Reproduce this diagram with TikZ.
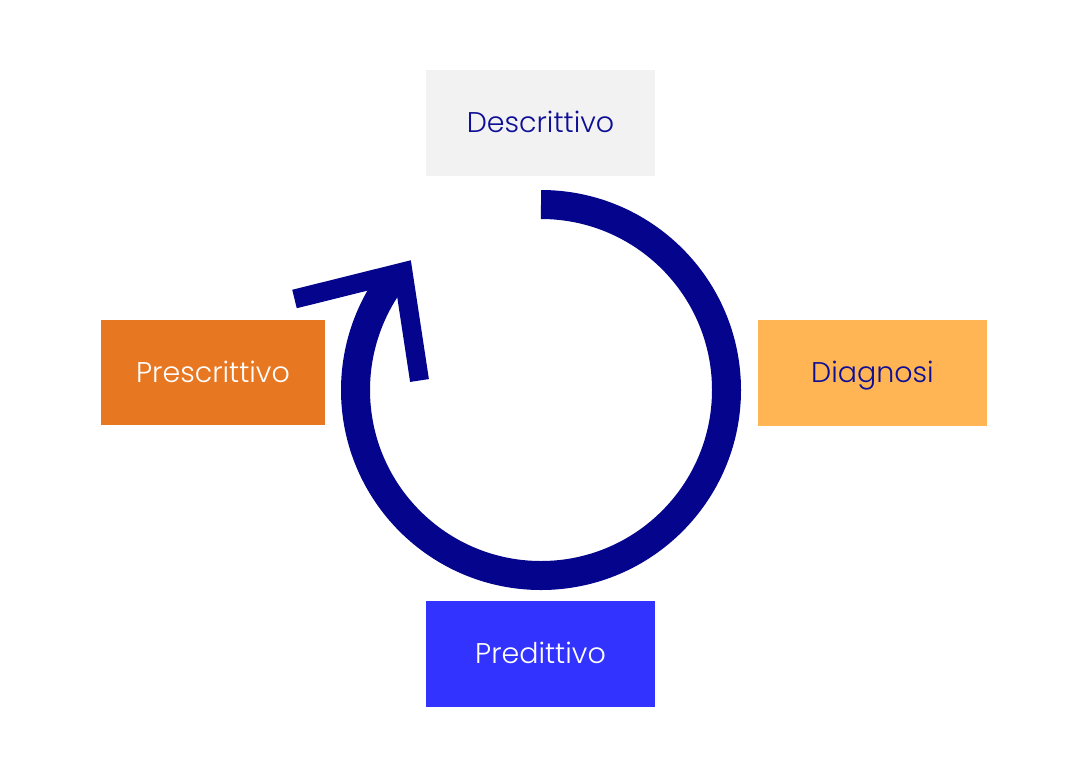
\documentclass[tikz,border=0pt]{standalone}
\usepackage{fontspec}
\setmainfont{Poppins}[UprightFont=* Light]
\definecolor{navy}{HTML}{04048C}
\definecolor{txtnavy}{HTML}{0E0E96}
\definecolor{boxgray}{HTML}{F2F2F2}
\definecolor{boxorange}{HTML}{E87722}
\definecolor{boxyellow}{HTML}{FFB554}
\definecolor{boxblue}{HTML}{3333FF}
\tikzset{
  stage/.style={rectangle, inner sep=0pt, minimum width=229pt, minimum height=106pt,
    text height=19.5pt, text depth=0pt, font=\fontsize{28.5}{32}\selectfont},
}
\begin{document}
\begin{tikzpicture}[x=1pt,y=-1pt]
\fill[white] (0,0) rectangle (1084,777);
\useasboundingbox (0,0) rectangle (1084,777);
\node[stage, fill=boxgray, text=txtnavy] (desc) at (540.5,123) {Descrittivo};
\node[stage, fill=boxorange, text=white, minimum width=224pt, minimum height=105pt] (presc) at (213,372.5) {Prescrittivo};
\node[stage, fill=boxyellow, text=txtnavy] (diag) at (872.5,372.5) {Diagnosi};
\node[stage, fill=boxblue, text=white] (pred) at (540.5,654) {Predittivo};
\draw[navy, line width=29] (541,204.5) arc[start angle=-90, end angle=217, radius=185.5];
\draw[navy, line width=19, line join=miter] (294.5,299) -- (403,272) -- (419.5,380.5);
\end{tikzpicture}
\end{document}
